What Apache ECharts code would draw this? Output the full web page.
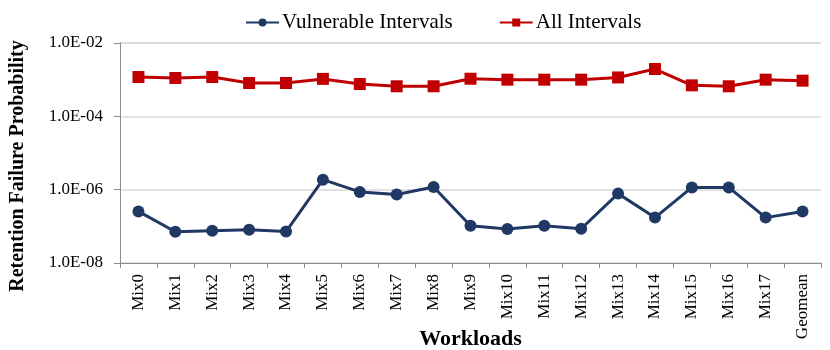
<!DOCTYPE html>
<html>
<head>
<meta charset="utf-8">
<script src="https://cdn.jsdelivr.net/npm/echarts@6/dist/echarts.min.js"></script>
<style>
  html, body { margin: 0; padding: 0; background: #fff; }
</style>
</head>
<body>
<div id="main" style="width:830px;height:350px"></div>
<script>
const workloads = ["Mix0", "Mix1", "Mix2", "Mix3", "Mix4", "Mix5", "Mix6", "Mix7", "Mix8", "Mix9",
  "Mix10", "Mix11", "Mix12", "Mix13", "Mix14", "Mix15", "Mix16", "Mix17", "Geomean"];
const vulnerable = [2.55e-7, 7.1e-8, 7.6e-8, 8.1e-8, 7.2e-8, 1.87e-6, 8.7e-7, 7.4e-7, 1.18e-6, 1.04e-7,
  8.5e-8, 1.04e-7, 8.6e-8, 7.8e-7, 1.73e-7, 1.15e-6, 1.15e-6, 1.73e-7, 2.55e-7];
const allIntervals = [1.18e-3, 1.11e-3, 1.18e-3, 8.1e-4, 8.1e-4, 1.05e-3, 7.6e-4, 6.6e-4, 6.6e-4, 1.06e-3,
  1.0e-3, 1.0e-3, 1.0e-3, 1.15e-3, 1.95e-3, 7.0e-4, 6.6e-4, 1.0e-3, 9.4e-4];

const serif = "Liberation Serif";

function sciLabel(v) {
  var e = Math.round(Math.log10(v));
  var s = Math.abs(e) < 10 ? "0" + Math.abs(e) : "" + Math.abs(e);
  return "1.0E" + (e < 0 ? "-" : "+") + s;
}

var myChart = echarts.init(document.getElementById("main"));
myChart.setOption({
  animation: false,
  legend: {
    top: 7,
    left: 240,
    itemGap: 46,
    itemWidth: 33,
    itemHeight: 10,
    textStyle: { fontFamily: serif, fontSize: 21, color: "#000", padding: [0, 0, 0, -2] },
    data: ["Vulnerable Intervals", "All Intervals"]
  },
  grid: { left: 120, right: 9, top: 43, bottom: 87, outerBoundsMode: "none", containLabel: false },
  xAxis: {
    type: "category",
    data: workloads,
    name: "Workloads",
    nameLocation: "middle",
    nameGap: 65,
    nameMoveOverlap: false,
    nameTextStyle: { fontFamily: serif, fontSize: 22, fontWeight: "bold", color: "#000" },
    axisLine: { lineStyle: { color: "#8c8c8c" } },
    axisTick: { show: true, length: 5, lineStyle: { color: "#8c8c8c" } },
    axisLabel: { rotate: 90, fontFamily: serif, fontSize: 17, color: "#000", margin: 11, interval: 0 }
  },
  yAxis: {
    type: "log",
    logBase: 100,
    min: 1e-8,
    max: 1e-2,
    name: "Retention Failure Probability",
    nameLocation: "middle",
    nameGap: 92,
    nameMoveOverlap: false,
    nameTextStyle: { fontFamily: serif, fontSize: 20, fontWeight: "bold", color: "#000", padding: [0, 26, 0, 0] },
    axisLine: { show: true, lineStyle: { color: "#8c8c8c" } },
    axisTick: { show: true, length: 6, lineStyle: { color: "#8c8c8c" } },
    axisLabel: { fontFamily: serif, fontSize: 17, color: "#000", margin: 17, formatter: sciLabel },
    splitLine: { lineStyle: { color: "#d9d9d9", width: 1.5 } }
  },
  series: [
    {
      name: "Vulnerable Intervals",
      type: "line",
      data: vulnerable,
      symbol: "circle",
      symbolSize: 12,
      color: "#203864",
      lineStyle: { width: 3 },
      itemStyle: { color: "#203864" }
    },
    {
      name: "All Intervals",
      type: "line",
      data: allIntervals,
      symbol: "rect",
      symbolSize: 12,
      color: "#c00000",
      lineStyle: { width: 3 },
      itemStyle: { color: "#c00000" }
    }
  ]
});
</script>
</body>
</html>
